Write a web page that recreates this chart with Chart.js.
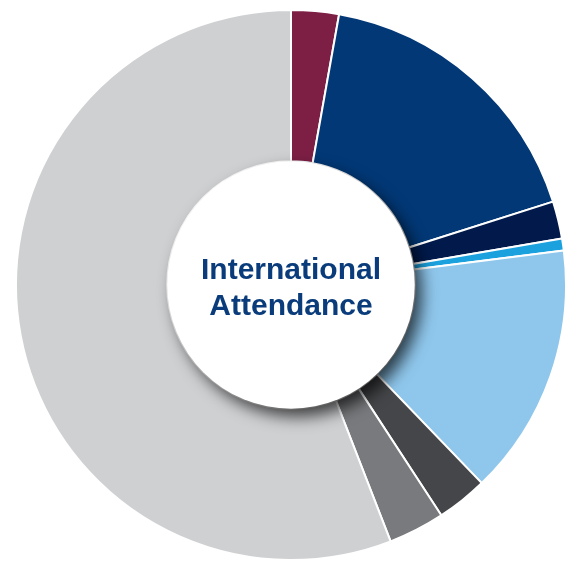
<!DOCTYPE html>
<html>
<head>
<meta charset="utf-8">
<script src="https://cdn.jsdelivr.net/npm/chart.js@4.4.1/dist/chart.umd.min.js"></script>
<style>
  html, body { margin: 0; padding: 0; background: #fff; }
  #wrap { width: 568px; height: 561px; position: relative; }
</style>
</head>
<body>
<div id="wrap"><canvas id="attendanceChart"></canvas></div>
<script>
// shares of international attendance, clockwise from 12 o'clock
const regions = ['Region 1', 'Region 2', 'Region 3', 'Region 4', 'Region 5', 'Region 6', 'Region 7', 'Region 8'];
const shares = [2.8, 17.3, 2.2, 0.7, 14.8, 3.0, 3.3, 55.9];
const colors = ['#7d1f45', '#023876', '#011a4b', '#1ba1dd', '#8fc7ec', '#454649', '#797a7d', '#cfd0d2'];
const centerLines = ['International', 'Attendance'];

const centerDisc = {
    id: 'centerDisc',
    afterDatasetsDraw(chart) {
        const arc = chart.getDatasetMeta(0).data[0];
        if (!arc) return;
        const ctx = chart.ctx;
        ctx.save();
        ctx.beginPath();
        ctx.arc(arc.x, arc.y, arc.innerRadius, 0, Math.PI * 2);
        ctx.shadowColor = 'rgba(0,0,0,0.7)';
        ctx.shadowBlur = 16;
        ctx.shadowOffsetX = 7;
        ctx.shadowOffsetY = 8;
        ctx.fillStyle = '#fff';
        ctx.fill();
        ctx.restore();

        ctx.save();
        ctx.fillStyle = '#0a3c7b';
        ctx.font = 'bold 30px "Liberation Sans", Arial, sans-serif';
        ctx.textAlign = 'center';
        ctx.textBaseline = 'alphabetic';
        ctx.fillText(centerLines[0], arc.x, arc.y - 6);
        ctx.fillText(centerLines[1], arc.x, arc.y + 30);
        ctx.restore();
    }
};

new Chart(document.getElementById('attendanceChart'), {
    type: 'doughnut',
    data: {
        labels: regions,
        datasets: [{
            data: shares,
            backgroundColor: colors,
            borderColor: '#fff',
            borderWidth: 2
        }]
    },
    options: {
        responsive: true,
        maintainAspectRatio: false,
        animation: false,
        cutout: '45%',
        layout: { padding: { left: 14, right: 0, top: 9, bottom: 0 } },
        plugins: {
            legend: { display: false },
            tooltip: { enabled: true }
        }
    },
    plugins: [centerDisc]
});
</script>
</body>
</html>
